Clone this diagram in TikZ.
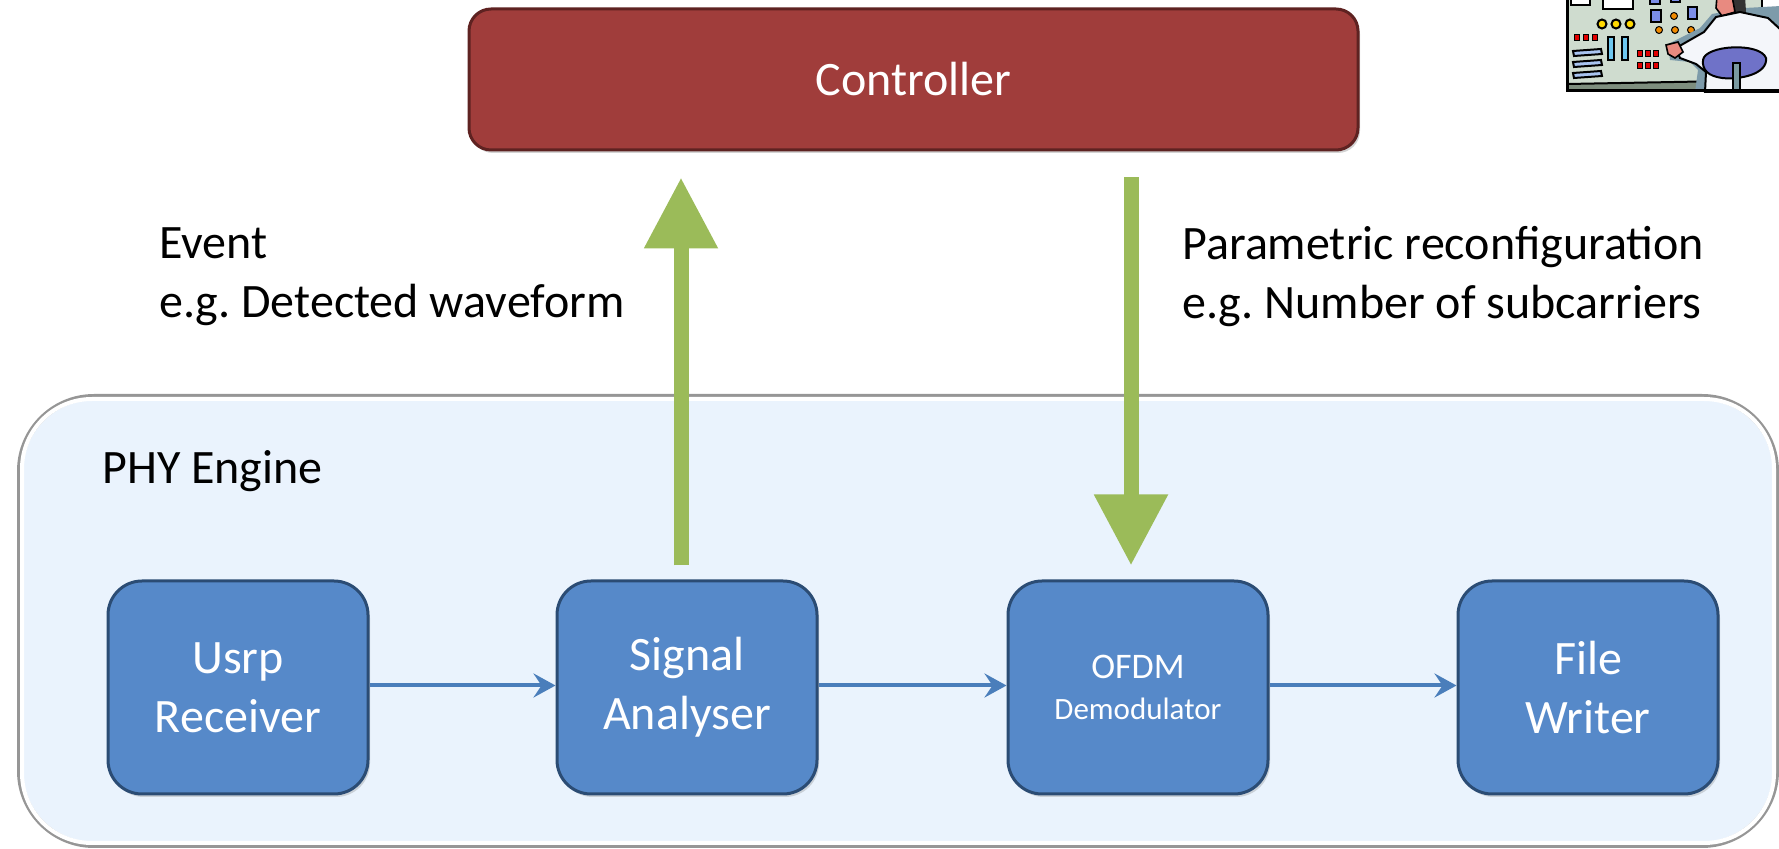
\documentclass[tikz,border=0pt]{standalone}
\usepackage{fontspec}
\setmainfont{Carlito}
\usetikzlibrary{arrows.meta,shadows,calc}
\frenchspacing

\definecolor{ctrlred}{HTML}{A03D3B}
\definecolor{ctrlborder}{HTML}{5E2221}
\definecolor{blockblue}{HTML}{5689C9}
\definecolor{blockborder}{HTML}{2B4C74}
\definecolor{linkblue}{HTML}{4A7EBB}
\definecolor{phyfill}{HTML}{EAF3FD}
\definecolor{phyrim}{HTML}{969696}
\definecolor{armgreen}{HTML}{9BBB59}
\definecolor{panelgreen}{HTML}{CFDCCF}
\definecolor{panelbase}{HTML}{7E8E7E}
\definecolor{lampyellow}{HTML}{FFD800}
\definecolor{lamporange}{HTML}{F08A00}
\definecolor{knobblue}{HTML}{7C8EE8}
\definecolor{barblue}{HTML}{A9C4F0}
\definecolor{barcyan}{HTML}{6EC8F0}
\definecolor{ledred}{HTML}{E00000}
\definecolor{skin}{HTML}{E88A80}
\definecolor{coat}{HTML}{F4F6FA}
\definecolor{coatshade}{HTML}{7D9BAA}
\definecolor{chairblue}{HTML}{6F72C8}
\definecolor{postgray}{HTML}{7A9AA0}

\begin{document}
\begin{tikzpicture}[x=0.5pt,y=-0.5pt,
  ctrlbox/.style={draw=ctrlborder, line width=1.5pt, fill=ctrlred,
    rounded corners=11pt, minimum width=444.5pt, minimum height=70.5pt,
    text=white, font=\fontsize{24}{28}\selectfont,
    drop shadow={shadow xshift=1pt, shadow yshift=-1.5pt, opacity=0.35}},
  enginebox/.style={draw=phyrim, line width=3pt, fill=phyfill,
    rounded corners=37pt, minimum width=878pt, minimum height=224pt},
  block/.style={draw=blockborder, line width=1.5pt, fill=blockblue,
    rounded corners=17pt, minimum width=130pt, minimum height=106.5pt,
    text=white, align=center, font=\fontsize{24}{29.5}\selectfont,
    drop shadow={shadow xshift=1pt, shadow yshift=-1.5pt, opacity=0.3}},
  link/.style={draw=linkblue, line width=2pt,
    -{Stealth[length=11pt,width=12pt,inset=4pt]}},
  bigarrow/.style={draw=armgreen, line width=7.5pt,
    -{Triangle[length=35.5pt,width=35pt]}},
  caption/.style={anchor=west, align=left, inner sep=0pt,
    font=\fontsize{24}{29.5}\selectfont},
]
\useasboundingbox (0,0) rectangle (1779,849);

% PHY engine container
\node[enginebox] (phy) at (898,621) {};
\draw[white, line width=2pt, rounded corners=35pt]
  ([shift={(2.5pt,-2.5pt)}]phy.north west) rectangle ([shift={(-2.5pt,2.5pt)}]phy.south east);
\node[caption] (phylabel) at (102,471) {PHY Engine};

% controller
\node[ctrlbox] (ctrl) at (913.5,79.5) {Controller};

% processing chain
\node[block] (usrp) at (238,687.5) {Usrp\\Receiver};
\node[block] (sig)  at (687,687.5) {Signal\\Analyser};
\node[block, font=\fontsize{15.5}{20.5}\selectfont] (ofdm) at (1138,687.5)
  {{\fontsize{18}{20.5}\selectfont OFDM}\\Demodulator};
\node[block] (file) at (1588,687.5) {File\\Writer};

\draw[link] ([yshift=1pt]usrp.east) -- ([yshift=1pt]sig.west);
\draw[link] ([yshift=1pt]sig.east) -- ([yshift=1pt]ofdm.west);
\draw[link] ([yshift=1pt]ofdm.east) -- ([yshift=1pt]file.west);

% event and reconfiguration paths
\draw[bigarrow] ([xshift=-3pt,yshift=7pt]sig.north) -- ([xshift=-3pt,yshift=-13pt]sig.north |- ctrl.south);
\draw[bigarrow] ([xshift=-3.5pt,yshift=-13pt]ofdm.north |- ctrl.south) -- ([xshift=-3.5pt,yshift=7pt]ofdm.north);

\node[caption] (event) at (159,277) {Event\\e.g. Detected waveform};
\node[caption] (param) at (1182,277) {Parametric reconfiguration\\e.g. Number of subcarriers};

% operator at the control panel
\begin{scope}
  \clip (1566,-4) rectangle (1781,93);
  \fill[panelgreen] (1566,-4) rectangle (1781,92);
  \fill[panelbase] (1568,84) -- (1781,80) -- (1781,92) -- (1568,92) -- cycle;
  \draw[black, line width=1pt] (1568,84) -- (1781,80);
  % top instruments
  \draw[black, line width=1pt, fill=white] (1571,-4) rectangle (1590,5);
  \draw[black, line width=1pt, fill=white] (1603,-4) rectangle (1633,9);
  \draw[black, line width=1pt, fill=knobblue] (1650,-4) rectangle (1660,4);
  \draw[black, line width=1pt, fill=knobblue] (1671,-4) rectangle (1680,2);
  \draw[black, line width=1pt, fill=knobblue] (1651,10) rectangle (1661,22);
  \draw[black, line width=1pt, fill=knobblue] (1688,7) rectangle (1697,19);
  \draw[black, line width=1pt, fill=white] (1762,-4) rectangle (1781,14);
  \draw[black, line width=1pt, fill=knobblue] (1776,28) rectangle (1783,40);
  % lamps
  \foreach \lx in {1602,1616,1630}
    \draw[black, line width=1pt, fill=lampyellow] (\lx,24) circle (4.5);
  \foreach \lx/\ly in {1674/16,1659/30,1675/30,1691/30}
    \draw[black, line width=0.5pt, fill=lamporange] (\lx,\ly) circle (3.5);
  % leds
  \foreach \lx in {1574,1583,1592}
    \draw[black, line width=0.5pt, fill=ledred] (\lx,35) rectangle ++(5,6);
  \foreach \lx in {1637,1645,1653} {
    \draw[black, line width=0.5pt, fill=ledred] (\lx,51) rectangle ++(5,6);
    \draw[black, line width=0.5pt, fill=ledred] (\lx,63) rectangle ++(5,6);
  }
  % sliders and gauges
  \foreach \ly in {49,60,71}
    \draw[black, line width=1pt, fill=barblue] (1573,\ly+2) -- (1601,\ly) -- (1602,\ly+5) -- (1574,\ly+7) -- cycle;
  \draw[black, line width=1pt, fill=barcyan] (1608,37) rectangle (1614,60);
  \draw[black, line width=1pt, fill=barcyan] (1622,37) rectangle (1628,60);
  % operator
  \fill[coatshade] (1668,44) -- (1700,28) -- (1712,14) -- (1745,8) -- (1781,6) -- (1781,92) -- (1695,92) -- (1698,70) -- (1690,62) -- (1670,60) -- cycle;
  \fill[black!80] (1728,-4) -- (1745,-4) -- (1746,12) -- (1736,16) -- cycle;
  \draw[black, line width=0.8pt, fill=skin] (1717,-4) -- (1732,-4) -- (1735,12) -- (1722,16) -- (1716,8) -- cycle;
  \draw[black, line width=1pt, fill=coat] (1676,48) -- (1704,32) -- (1716,17) -- (1740,12) -- (1768,18) -- (1781,30) -- (1781,92) -- (1705,92) -- (1706,72) -- (1696,64) -- (1680,58) -- cycle;
  \draw[black, line width=0.8pt, fill=skin] (1666,45) -- (1678,42) -- (1683,52) -- (1675,58) -- (1668,54) -- cycle;
  \draw[black, line width=1pt, fill=chairblue] (1703,60) .. controls (1705,45) and (1760,42) .. (1766,58) .. controls (1768,74) and (1740,80) .. (1722,78) .. controls (1708,76) and (1702,70) .. cycle;
  \draw[black, line width=1pt, fill=postgray] (1733,63) rectangle (1740,93);
  \draw[black, line width=1.5pt] (1567,-4) -- (1567,91) -- (1781,91);
\end{scope}
\end{tikzpicture}
\end{document}
